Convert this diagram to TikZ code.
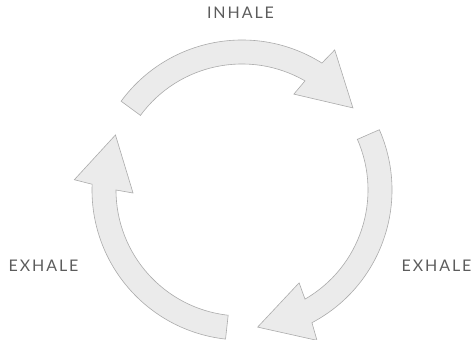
\documentclass[tikz,border=0pt]{standalone}
\usepackage{fontspec}
\setmainfont{Lato}[LetterSpace=12]
\definecolor{arrowfill}{HTML}{EBEBEB}
\definecolor{arrowline}{HTML}{ABABAB}
\definecolor{labelcol}{HTML}{5C5C5C}
\begin{document}
\begin{tikzpicture}[x=1pt,y=1pt,
  cyclearrow/.style={fill=arrowfill,draw=arrowline,line width=0.6pt,line join=miter},
  lbl/.style={font=\fontsize{16}{19}\selectfont,text=labelcol,inner sep=0pt}]
\useasboundingbox (0,0) rectangle (474,340);
\coordinate (C) at (242,150);
\foreach \T in {143.7,23.7,-96.3}{
  \begin{scope}[shift={(C)}]
    \draw[cyclearrow] (\T:150pt) arc[start angle=\T, end angle=\T-85.9, radius=150pt]
      -- (\T-87.2:168pt) -- (\T-107.2:138pt) -- (\T-82.1:109pt) -- (\T-83.7:126pt)
      arc[start angle=\T-83.7, end angle=\T, radius=126pt] -- cycle;
  \end{scope}
}
\node[lbl] (inhale) at (240.5,327) {INHALE};
\node[lbl] (exhaleL) at (43.5,74) {EXHALE};
\node[lbl] (exhaleR) at (436.5,74) {EXHALE};
\end{tikzpicture}
\end{document}
